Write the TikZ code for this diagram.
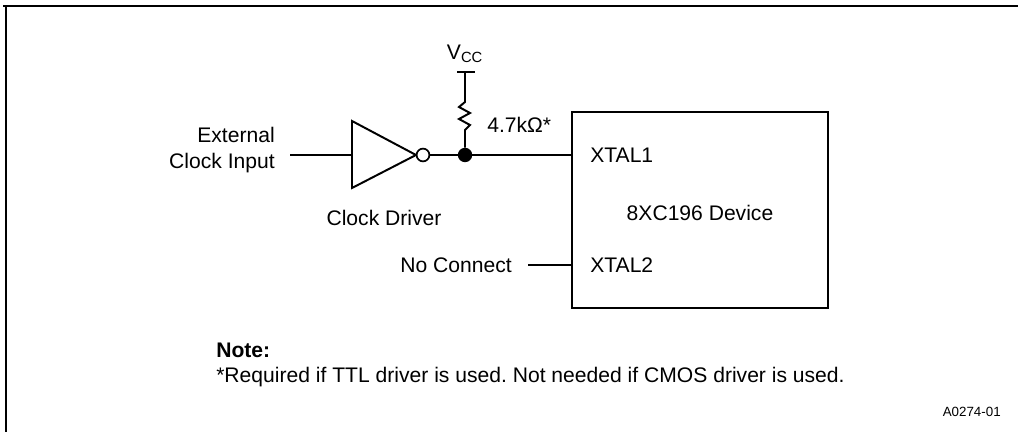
\documentclass[tikz,border=0pt]{standalone}
\usepackage{fontspec}
\setmainfont{Liberation Sans}
\usetikzlibrary{calc}
\frenchspacing
\tikzset{
  wire/.style={line width=1.4pt},
  lbl/.style={inner sep=0pt,font=\fontsize{15}{18}\selectfont},
  pin/.style={lbl,anchor=west},
  bubble/.style={circle,draw,fill=white,line width=1.2pt,inner sep=0pt,minimum size=0.32cm},
  junction/.style={circle,fill,inner sep=0pt,minimum size=0.36cm}
}

\begin{document}
\begin{tikzpicture}[x=0.025cm,y=-0.025cm]
    \useasboundingbox (0,0) rectangle (1018,432);
    % frame
    \draw [wire] (3,6) -- (1018,6);
    \draw [wire] (6,6) -- (6,432);

    % clock input and driver
    \node [lbl, align=right, anchor=east] (ext) at (275,150) {External\\Clock Input};
    \coordinate (in) at (290,155);
    \coordinate (drvin) at (352,155);
    \draw [wire] (in) -- (drvin);
    \draw [wire, line join=miter] (352,121) -- (416,155) -- (352,188) -- cycle;
    \node [bubble] (bub) at (423,155) {};
    \node [lbl] (drv) at (384,218) {Clock Driver};

    % device
    \node [draw, wire, minimum width=6.4cm, minimum height=4.9cm] (dev) at (700,210) {};
    \node [lbl] (name) at (700,213) {8XC196 Device};
    \node [pin] (x1) at (590,155) {XTAL1};
    \node [pin] (x2) at (590,265) {XTAL2};

    % pull-up
    \node [junction] (j) at (465,155) {};
    \draw [wire] (bub) -- (j) -- (dev.west |- j);
    \coordinate (vcc) at (465,72);
    \draw [wire] (457,72) -- (475,72);
    \draw [wire, line join=miter] (vcc) -- (465,102) -- (459,107) -- (470,113) -- (459,119)
      -- (470,125) -- (465,130) -- (j);
    \node [lbl, anchor=south] (vlab) at (465,63) {V\textsubscript{CC}};
    \node [lbl, anchor=west] (r) at (487,125) {4.7kΩ*};

    % xtal2
    \node [lbl, anchor=east] (nc) at (512,265) {No Connect};
    \coordinate (ncend) at (528,265);
    \draw [wire] (ncend) -- (dev.west |- ncend);

    % note
    \node [lbl, anchor=west, font=\fontsize{15}{18}\selectfont\bfseries] (note) at (216,350) {Note:};
    \node [lbl, anchor=west] (notetxt) at (216,377) {*Required if TTL driver is used. Not needed if CMOS driver is used.};
    \node [lbl, anchor=east, font=\fontsize{9.5}{12}\selectfont] (ref) at (1001,412) {A0274-01};
\end{tikzpicture}
\end{document}
